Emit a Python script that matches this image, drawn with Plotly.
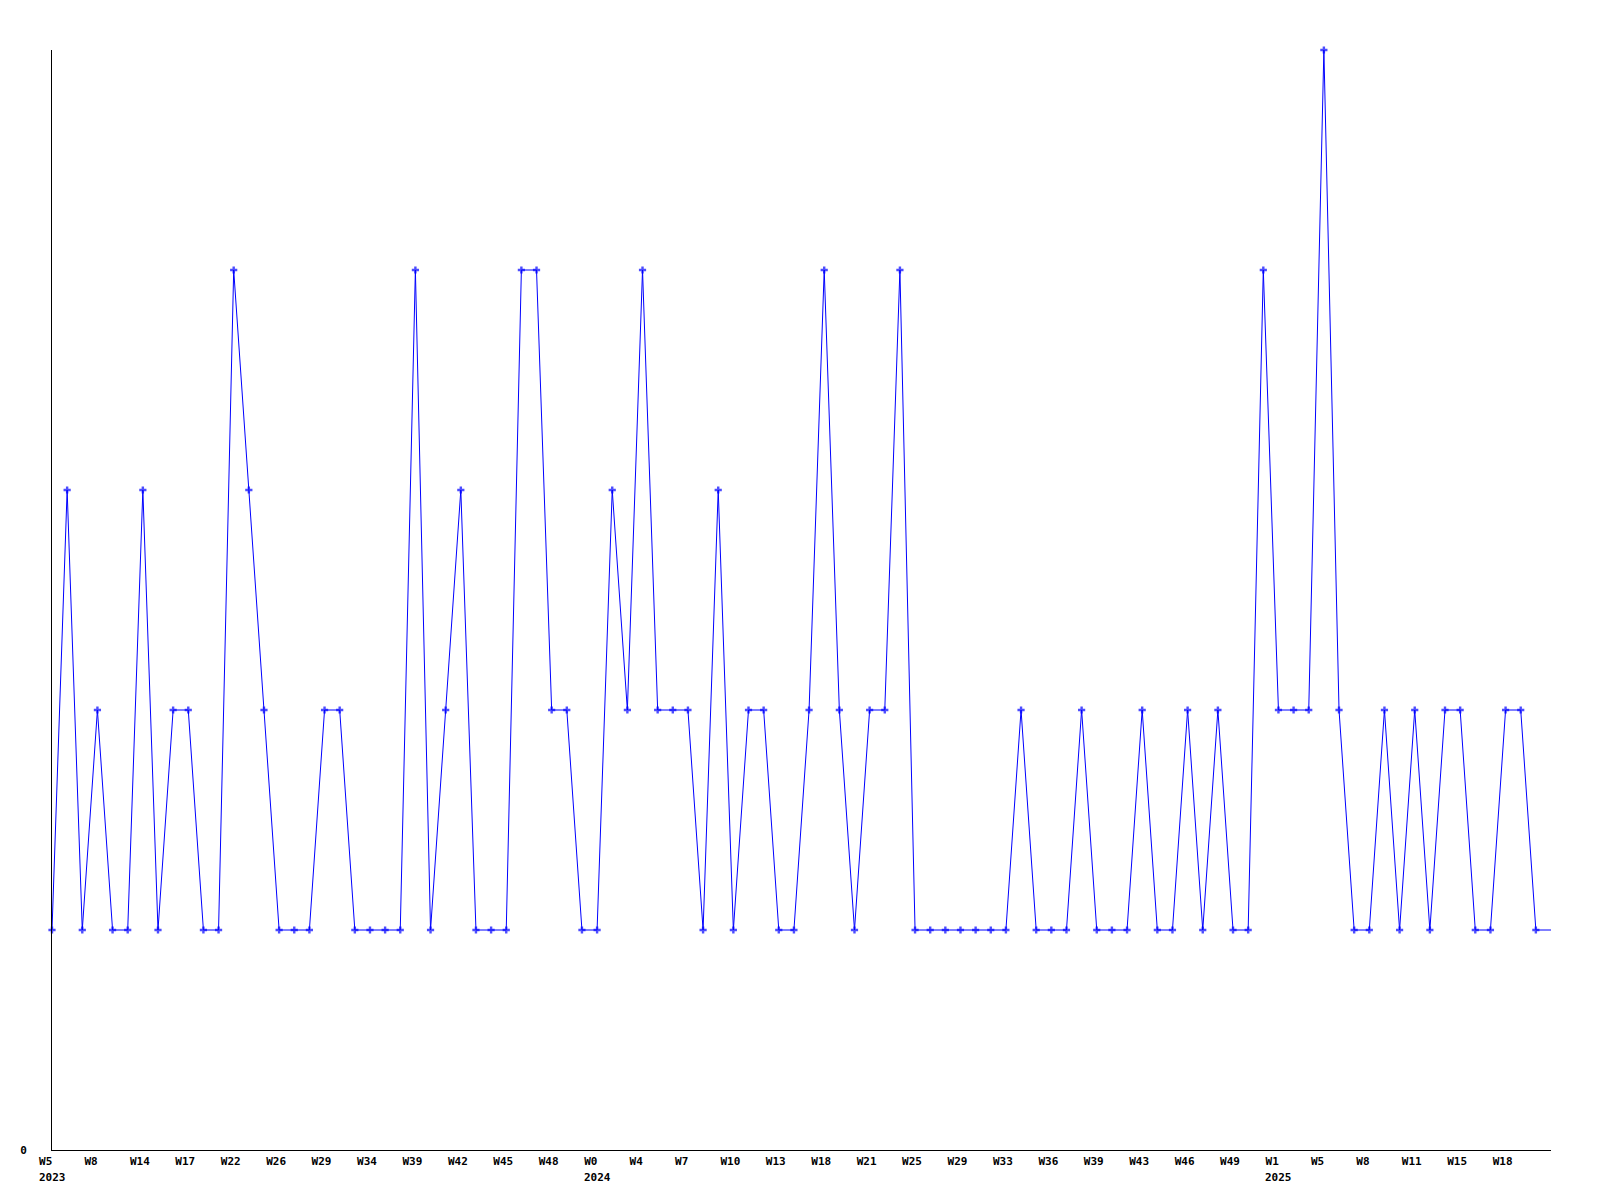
import plotly.graph_objects as go

# weekly values (last entry continues the line past the final labelled week)
values = [1, 3, 1, 2, 1, 1, 3, 1, 2, 2, 1, 1, 4, 3, 2, 1, 1, 1, 2, 2,
          1, 1, 1, 1, 4, 1, 2, 3, 1, 1, 1, 4, 4, 2, 2, 1, 1, 3, 2, 4,
          2, 2, 2, 1, 3, 1, 2, 2, 1, 1, 2, 4, 2, 1, 2, 2, 4, 1, 1, 1,
          1, 1, 1, 1, 2, 1, 1, 1, 2, 1, 1, 1, 2, 1, 1, 2, 1, 2, 1, 1,
          4, 2, 2, 2, 5, 2, 1, 1, 2, 1, 2, 1, 2, 2, 1, 1, 2, 2, 1, 1]

week_labels = ["W5", "W8", "W14", "W17", "W22", "W26", "W29", "W34", "W39", "W42", "W45", "W48",
               "W0", "W4", "W7", "W10", "W13", "W18", "W21", "W25", "W29", "W33", "W36", "W39",
               "W43", "W46", "W49",
               "W1", "W5", "W8", "W11", "W15", "W18"]
label_step = 3
year_labels = {0: "2023", 36: "2024", 81: "2025"}

n = len(values)
x = list(range(n))
marker_sizes = [6] * (n - 1) + [0]

FONT = "DejaVu Sans Mono"
BLUE = "#0000ff"

fig = go.Figure()
fig.add_trace(go.Scatter(
    x=x, y=values, mode="lines+markers",
    line=dict(color=BLUE, width=1),
    marker=dict(symbol="cross", size=marker_sizes, color=BLUE, line=dict(width=0)),
    cliponaxis=False, showlegend=False, hoverinfo="skip",
))

tickvals = [i * label_step for i in range(len(week_labels))]
ticktext = [lab + "\u00a0" * (3 - len(lab)) for lab in week_labels]

annotations = []
for idx, yr in year_labels.items():
    annotations.append(dict(
        x=idx, xref="x", y=0, yref="paper", text=yr, showarrow=False,
        xanchor="left", yanchor="middle", xshift=-15, yshift=-27,
        font=dict(family=FONT, size=11, color="black", weight="bold"),
    ))

fig.update_layout(
    width=1600, height=1200,
    margin=dict(l=42, r=57, t=42, b=58, pad=0),
    paper_bgcolor="white", plot_bgcolor="white",
    annotations=annotations,
    xaxis=dict(
        range=[0, n - 1], showgrid=False, zeroline=False,
        showline=True, linecolor="black", linewidth=1,
        tickmode="array", tickvals=tickvals, ticktext=ticktext, ticks="",
        tickfont=dict(family=FONT, size=11, color="black", weight="bold"),
        ticklabelstandoff=1, ticklabelshift=-3,
    ),
    yaxis=dict(
        range=[0, 5], showgrid=False, zeroline=False, showline=True,
        linecolor="black", linewidth=1,
        tickmode="array", tickvals=[0], ticktext=["0"], ticks="",
        tickfont=dict(family=FONT, size=11, color="black", weight="bold"),
        ticklabelstandoff=22,
    ),
)

fig.write_html("out.html")
